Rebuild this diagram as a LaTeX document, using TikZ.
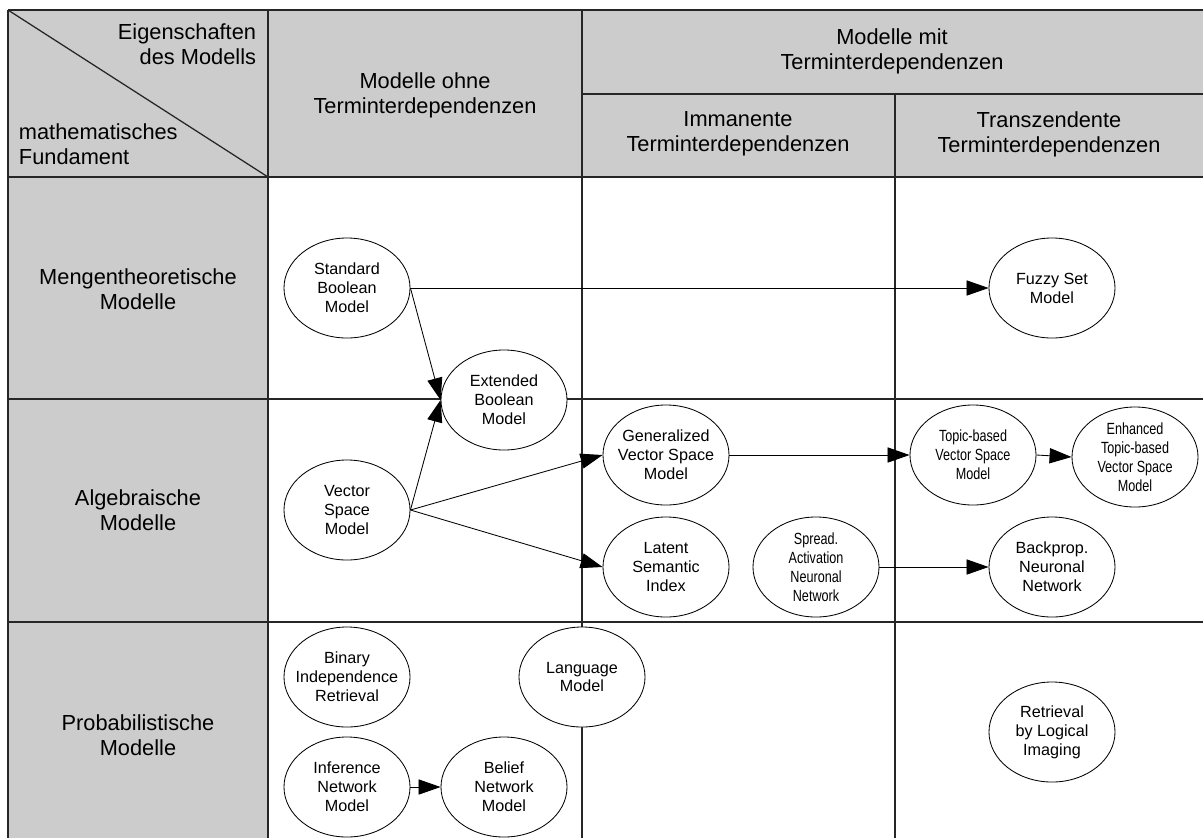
\documentclass[tikz,border=0pt]{standalone}
\usepackage{fontspec}
\setmainfont{Liberation Sans}
\newfontfamily\schmal[FakeStretch=0.78]{Liberation Sans}
\usetikzlibrary{shapes.geometric,arrows.meta}
\definecolor{kopfgrau}{HTML}{CCCCCC}
\tikzset{
  kopf/.style={align=center,font=\fontsize{15.5}{17.7}\selectfont},
  gitter/.style={line width=0.9pt,draw=black!85},
  modell/.style={ellipse,draw,fill=white,line width=0.6pt,minimum width=3.15cm,minimum height=2.5cm,
    inner xsep=-4mm,inner ysep=-1mm,align=center,font=\fontsize{11.5}{13.5}\selectfont},
  schmalmodell/.style={modell,font=\schmal\fontsize{11.5}{13.5}\selectfont},
  pfeil/.style={-{Triangle[length=5.5mm,width=3.8mm]},line width=0.6pt}
}
\begin{document}
\begin{tikzpicture}[x=0.025cm,y=-0.025cm]
  \useasboundingbox (0,0) rectangle (1203,838);
  \fill[kopfgrau] (8,10) rectangle (1203,177);
  \fill[kopfgrau] (8,177) rectangle (268,838);
  \draw[gitter] (8,10) -- (1203,10);
  \draw[gitter] (582,94) -- (1203,94);
  \foreach \y in {177,399,622}
    \draw[gitter] (8,\y) -- (1203,\y);
  \foreach \x in {8,268,582}
    \draw[gitter] (\x,10) -- (\x,838);
  \draw[gitter] (895,94) -- (895,838);
  \draw[gitter] (8,10) -- (268,177);

  \node[kopf,anchor=east,align=right] (eig) at (261,44) {Eigenschaften\\des Modells};
  \node[kopf,anchor=west,align=left] (fund) at (14,144) {mathematisches\\Fundament};
  \node[kopf] (ohne) at (425,95) {Modelle ohne\\Terminterdependenzen};
  \node[kopf] (mit) at (892,51) {Modelle mit\\Terminterdependenzen};
  \node[kopf] (imm) at (738,134) {Immanente\\Terminterdependenzen};
  \node[kopf] (trans) at (1049,134) {Transzendente\\Terminterdependenzen};
  \node[kopf] (mengen) at (138,289) {Mengentheoretische\\Modelle};
  \node[kopf] (algebra) at (138,510) {Algebraische\\Modelle};
  \node[kopf] (prob) at (138,735) {Probabilistische\\Modelle};

  \node[modell] (std) at (347,288) {Standard\\Boolean\\Model};
  \node[modell] (ext) at (504,400) {Extended\\Boolean\\Model};
  \node[modell] (fuzzy) at (1052,288) {Fuzzy Set\\Model};
  \node[modell] (vsm) at (347,510) {Vector\\Space\\Model};
  \node[modell] (gvsm) at (666,455) {Generalized\\Vector Space\\Model};
  \node[schmalmodell] (tvsm) at (973,455) {Topic-based\\Vector Space\\Model};
  \node[schmalmodell] (etvsm) at (1135,457) {Enhanced\\Topic-based\\Vector Space\\Model};
  \node[modell] (lsi) at (666,567) {Latent\\Semantic\\Index};
  \node[schmalmodell] (san) at (816,567) {Spread.\\Activation\\Neuronal\\Network};
  \node[modell] (bnn) at (1052,567) {Backprop.\\Neuronal\\Network};
  \node[modell] (bir) at (347,677) {Binary\\Independence\\Retrieval};
  \node[modell] (lm) at (582,677) {Language\\Model};
  \node[modell] (inm) at (347,787) {Inference\\Network\\Model};
  \node[modell] (belief) at (504,787) {Belief\\Network\\Model};
  \node[modell] (rli) at (1052,732) {Retrieval\\by Logical\\Imaging};

  \draw[pfeil] (std.east) -- (fuzzy.west);
  \draw[pfeil] (std.east) -- (ext.west);
  \draw[pfeil] (vsm.east) -- (ext.west);
  \draw[pfeil] (vsm.east) -- (gvsm.west);
  \draw[pfeil] (vsm.east) -- (lsi.west);
  \draw[pfeil] (gvsm.east) -- (tvsm.west);
  \draw[pfeil] (tvsm.east) -- (etvsm.west);
  \draw[pfeil] (san.east) -- (bnn.west);
  \draw[pfeil] (inm.east) -- (belief.west);
\end{tikzpicture}
\end{document}
